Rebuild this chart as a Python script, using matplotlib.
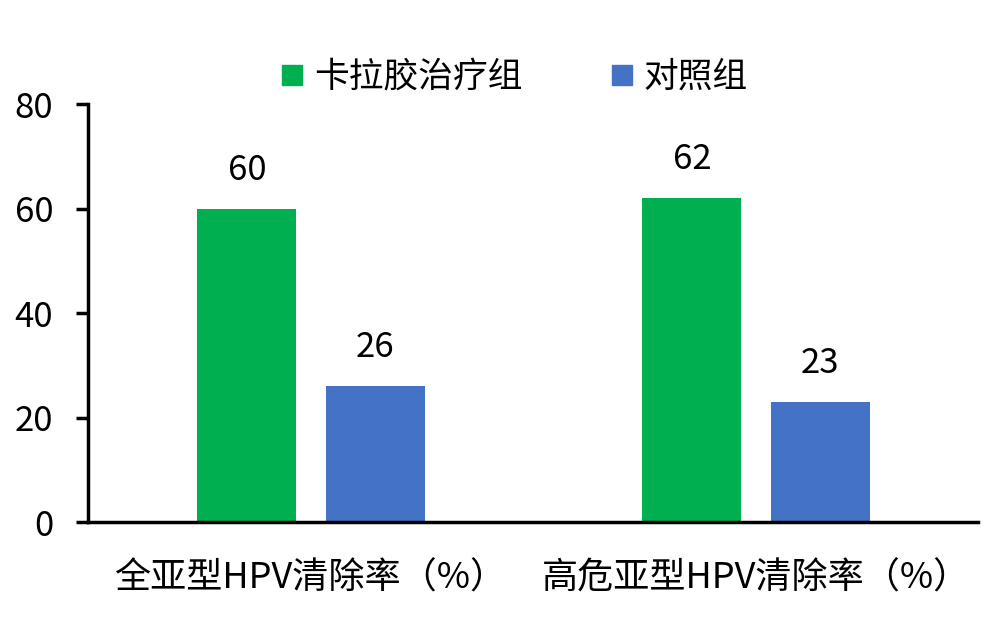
import numpy as np
import matplotlib.pyplot as plt
from matplotlib.lines import Line2D

plt.rcParams['font.family'] = ['Noto Sans CJK SC', 'DejaVu Sans']

categories = ['全亚型HPV清除率（%）', '高危亚型HPV清除率（%）']
series_names = ['卡拉胶治疗组', '对照组']
treat = [60, 62]
control = [26, 23]
colors = ['#00B050', '#4472C4']

fig = plt.figure(figsize=(10, 6.23), dpi=100)
ax = fig.add_axes([0.088, 0.162, 0.89, 0.671])

x = np.arange(len(categories))
w = 0.2225
b1 = ax.bar(x - 0.143, treat, w, color=colors[0])
b2 = ax.bar(x + 0.145, control, w, color=colors[1])
ax.bar_label(b1, padding=15, fontsize=25)
ax.bar_label(b2, padding=15, fontsize=25)

ax.set_xlim(-0.5, 1.5)
ax.set_ylim(0, 80)
ax.set_yticks([0, 20, 40, 60, 80])
ax.set_xticks(x)
ax.set_xticklabels(categories, fontsize=26)
ax.tick_params(axis='x', length=0, pad=28)
ax.tick_params(axis='y', labelsize=25, width=2.5, length=9, pad=16)
for s in ['top', 'right']:
    ax.spines[s].set_visible(False)
for s in ['left', 'bottom']:
    ax.spines[s].set_linewidth(2.5)

handles = [Line2D([], [], marker='s', linestyle='none', markersize=15,
                  markerfacecolor=c, markeredgecolor=c) for c in colors]
fig.legend(handles, series_names, loc='center', bbox_to_anchor=(0.514, 0.876),
           ncol=2, frameon=False, fontsize=25, columnspacing=2.5,
           handletextpad=0.28, handlelength=0.7)

fig.savefig('out.png', dpi=100)
